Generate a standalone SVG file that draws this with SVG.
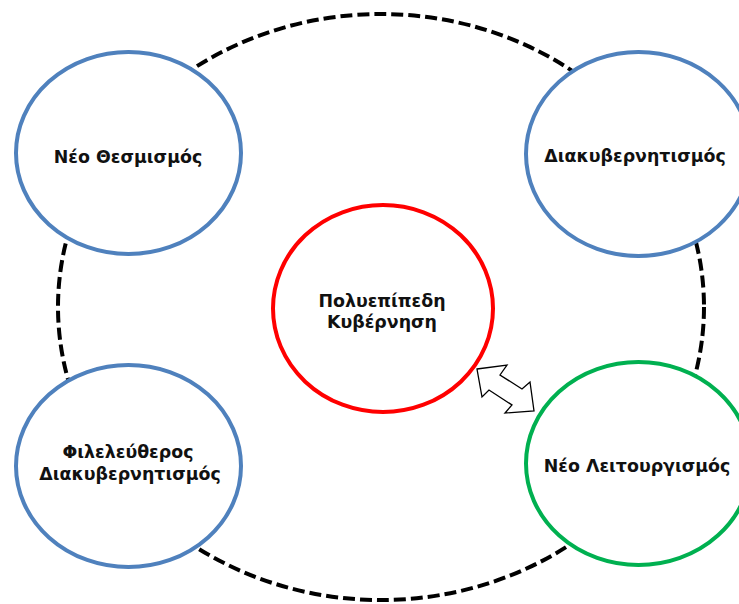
<svg xmlns="http://www.w3.org/2000/svg" width="739" height="604" viewBox="0 0 739 604">
<style>
  .bg { fill: #ffffff; }
  .node { fill: #ffffff; stroke-width: 4; }
  .blue { stroke: #4F81BD; }
  .red { stroke: #FF0000; }
  .green { stroke: #00B050; }
  .ring { fill: none; stroke: #000000; stroke-width: 4; stroke-dasharray: 12 5; }
  .arrow { fill: #ffffff; stroke: #000000; stroke-width: 1.3; stroke-linejoin: miter; }
  .label { font-family: "DejaVu Sans", "Noto Sans", sans-serif; font-weight: bold; font-size: 17.4px; fill: #111111; text-anchor: middle; }
</style>
<rect class="bg" x="0" y="0" width="739" height="604"/>
<g id="connectors">
  <ellipse class="ring" cx="381" cy="307" rx="323" ry="293"/>
  <polygon class="arrow" points="477,369 507,365 500,375 522,389 530,382 534,411 505,413 512,405 489,390 482,397"/>
</g>
<g id="node-neo-thesmismos">
  <ellipse class="node blue" cx="128.5" cy="153" rx="112.5" ry="101"/>
  <text class="label" x="128" y="163">Νέο Θεσμισμός</text>
</g>
<g id="node-diakyvernitismos">
  <ellipse class="node blue" cx="638.5" cy="154" rx="112.5" ry="102"/>
  <text class="label" x="635" y="162">Διακυβερνητισμός</text>
</g>
<g id="node-polyepipedi">
  <ellipse class="node red" cx="383" cy="308.5" rx="110" ry="103.5"/>
  <text class="label" x="382" y="307">Πολυεπίπεδη</text>
  <text class="label" x="382" y="328">Κυβέρνηση</text>
</g>
<g id="node-fileleftheros">
  <ellipse class="node blue" cx="128.5" cy="466" rx="112.5" ry="101"/>
  <text class="label" x="128" y="458">Φιλελεύθερος</text>
  <text class="label" x="130" y="480">Διακυβερνητισμός</text>
</g>
<g id="node-neo-leitourgismos">
  <ellipse class="node green" cx="638.5" cy="463.5" rx="112.5" ry="101.5"/>
  <text class="label" x="637" y="472">Νέο Λειτουργισμός</text>
</g>
</svg>
